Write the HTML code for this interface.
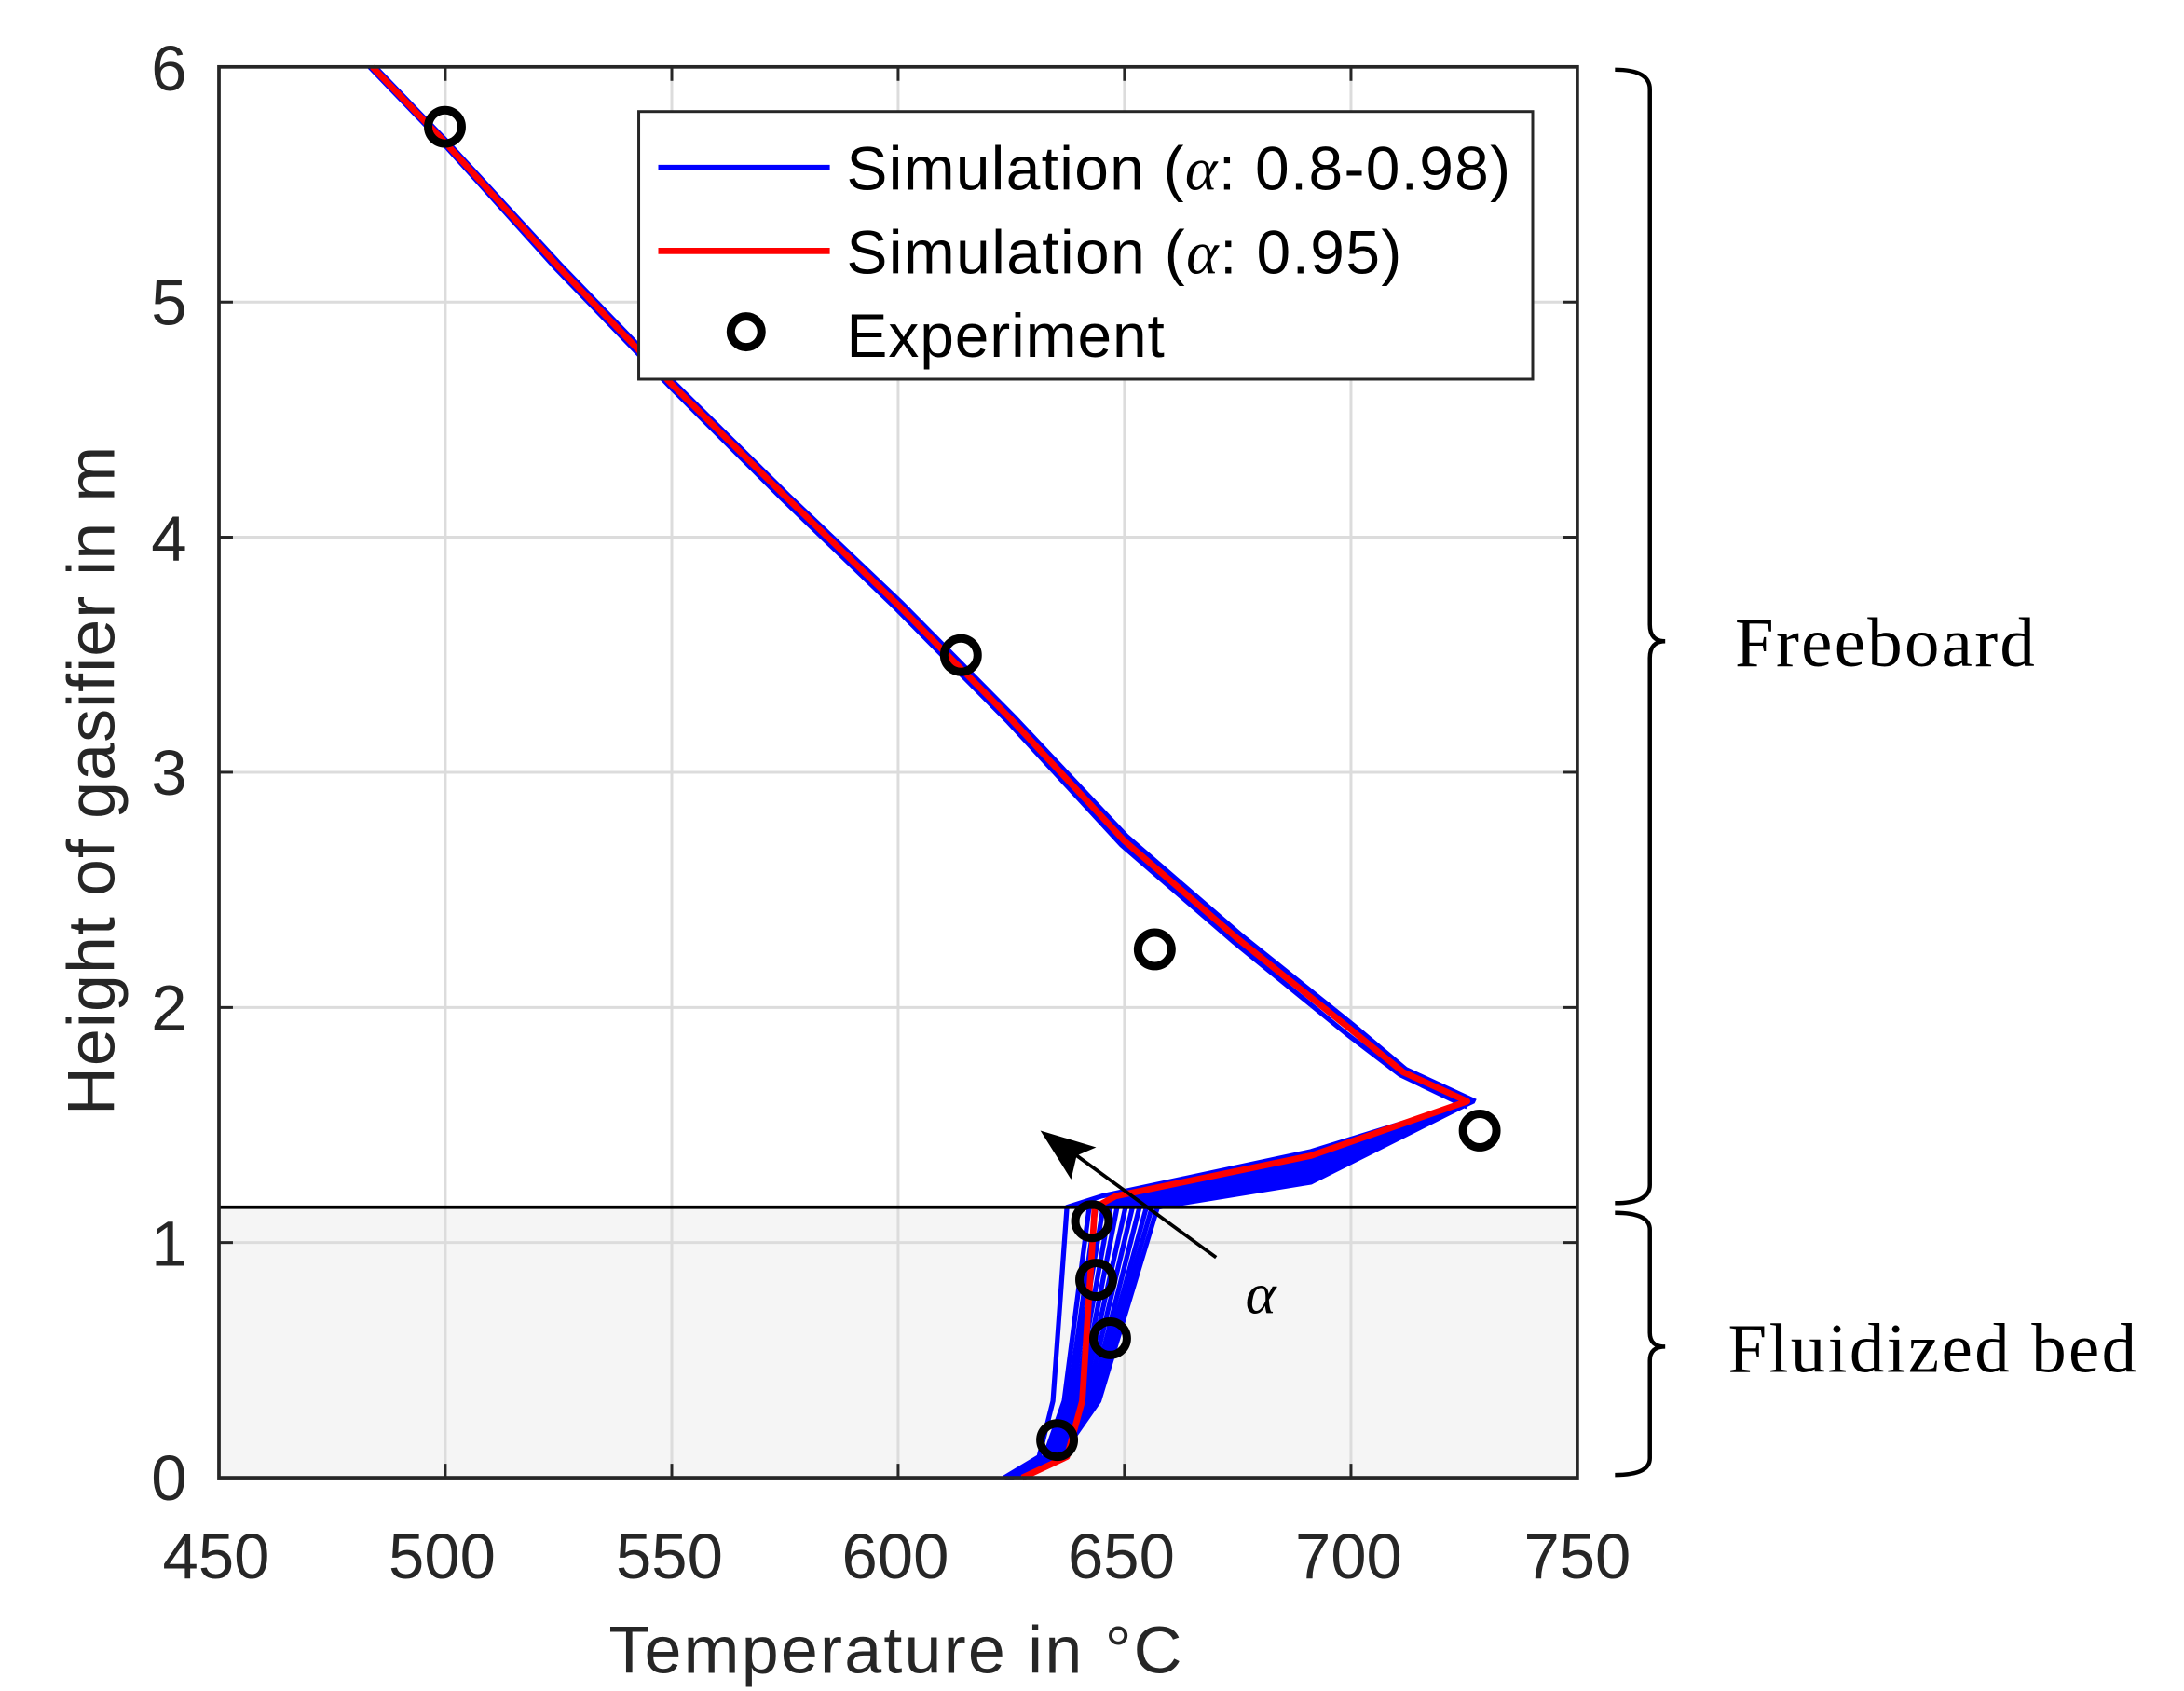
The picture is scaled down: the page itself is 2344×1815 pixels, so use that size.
<!DOCTYPE html>
<html><head><meta charset="utf-8"><style>html,body{margin:0;padding:0;background:#fff}svg{display:block}</style></head>
<body>
<svg width="2344" height="1815" viewBox="0 0 1566 1213" preserveAspectRatio="none" xmlns="http://www.w3.org/2000/svg">
<rect x="157" y="866" width="974" height="194" fill="#f5f5f5"/>
<g stroke="#dcdcdc" stroke-width="2">
<line x1="319.3" y1="48" x2="319.3" y2="1060"/><line x1="481.7" y1="48" x2="481.7" y2="1060"/><line x1="644" y1="48" x2="644" y2="1060"/><line x1="806.3" y1="48" x2="806.3" y2="1060"/><line x1="968.7" y1="48" x2="968.7" y2="1060"/>
<line x1="157" y1="216.7" x2="1131" y2="216.7"/><line x1="157" y1="385.3" x2="1131" y2="385.3"/><line x1="157" y1="554" x2="1131" y2="554"/><line x1="157" y1="722.7" x2="1131" y2="722.7"/><line x1="157" y1="891.3" x2="1131" y2="891.3"/>
</g>
<g stroke="#262626" stroke-width="2">
<line x1="319.3" y1="1060" x2="319.3" y2="1050"/><line x1="481.7" y1="1060" x2="481.7" y2="1050"/><line x1="644" y1="1060" x2="644" y2="1050"/><line x1="806.3" y1="1060" x2="806.3" y2="1050"/><line x1="968.7" y1="1060" x2="968.7" y2="1050"/>
<line x1="319.3" y1="48" x2="319.3" y2="58"/><line x1="481.7" y1="48" x2="481.7" y2="58"/><line x1="644" y1="48" x2="644" y2="58"/><line x1="806.3" y1="48" x2="806.3" y2="58"/><line x1="968.7" y1="48" x2="968.7" y2="58"/>
<line x1="157" y1="216.7" x2="167" y2="216.7"/><line x1="157" y1="385.3" x2="167" y2="385.3"/><line x1="157" y1="554" x2="167" y2="554"/><line x1="157" y1="722.7" x2="167" y2="722.7"/><line x1="157" y1="891.3" x2="167" y2="891.3"/>
<line x1="1131" y1="216.7" x2="1121" y2="216.7"/><line x1="1131" y1="385.3" x2="1121" y2="385.3"/><line x1="1131" y1="554" x2="1121" y2="554"/><line x1="1131" y1="722.7" x2="1121" y2="722.7"/><line x1="1131" y1="891.3" x2="1121" y2="891.3"/>
</g>
<g fill="none" stroke="#0000ff" stroke-width="3.5" stroke-linejoin="round">
<path d="M269,48 L321,102 L402,190 L484,275 L565,355 L646,432 L727,514 L808,600 L889,670 L970,735 L1008,767 L1058,790"/>
<path d="M265,48 L317,102 L398,192 L480,277 L561,358 L642,436 L723,518 L804,606 L885,676 L966,742 L1004,771 L1052,794"/>
<path d="M1056,790 L940,826 L790,858 L765,866 L755,1005 L745,1045 L720,1060"/>
<path d="M1056,790 L940,828 L800,860 L781,866 L763,1005 L749,1045 L721,1060"/>
<path d="M1056,790 L940,830 L803,861 L786,866 L766,1005 L750,1045 L722,1060"/>
<path d="M1056,790 L940,832 L806,861 L791,866 L768,1005 L751,1045 L722,1060"/>
<path d="M1056,790 L940,834 L809,862 L796,866 L771,1005 L752,1045 L723,1060"/>
<path d="M1056,790 L940,836 L812,862 L801,866 L774,1005 L753,1045 L723,1060"/>
<path d="M1056,790 L940,838 L816,863 L807,866 L776,1005 L755,1045 L724,1060"/>
<path d="M1056,790 L940,840 L819,863 L812,866 L779,1005 L756,1045 L724,1060"/>
<path d="M1056,790 L940,842 L822,864 L817,866 L782,1005 L757,1045 L724,1060"/>
<path d="M1056,790 L940,844 L825,864 L822,866 L784,1005 L758,1045 L725,1060"/>
<path d="M1056,790 L940,846 L828,865 L826,866 L786,1005 L759,1045 L725,1060"/>
<path d="M1056,790 L940,848 L830,866 L830,866 L788,1005 L760,1045 L725,1060"/>
</g>
<path d="M267,48 L319,102 L400,191 L482,276 L563,356 L644,434 L725,516 L806,603 L887,673 L968,738 L1006,769 L1052,790 L940,829 L800,858 L785,866 L776,1005 L765,1045 L733,1060" fill="none" stroke="#ff0000" stroke-width="4.5" stroke-linejoin="round"/>
<line x1="157" y1="866" x2="1131" y2="866" stroke="#000" stroke-width="2.5"/>
<rect x="157" y="48" width="974" height="1012" fill="none" stroke="#262626" stroke-width="2.5"/>
<g fill="none" stroke="#000" stroke-width="6">
<circle cx="319" cy="91" r="12"/><circle cx="689" cy="470" r="12"/><circle cx="828" cy="681" r="12"/><circle cx="1061" cy="811" r="12"/><circle cx="783" cy="876" r="12"/><circle cx="786" cy="918" r="12"/><circle cx="796" cy="960" r="12"/><circle cx="758" cy="1033" r="12"/>
</g>
<line x1="872" y1="902" x2="768" y2="826" stroke="#000" stroke-width="2.5"/>
<polygon points="746,811 786,823 772,829 768,846" fill="#000"/>
<text x="893" y="942" font-family="Liberation Serif, serif" font-style="italic" font-size="42">α</text>
<rect x="458" y="80" width="641" height="192" fill="#fff" stroke="#262626" stroke-width="2"/>
<line x1="472" y1="120" x2="595" y2="120" stroke="#0000ff" stroke-width="3.5"/>
<line x1="472" y1="180" x2="595" y2="180" stroke="#ff0000" stroke-width="4.5"/>
<circle cx="535" cy="238" r="11" fill="none" stroke="#000" stroke-width="6"/>
<g font-family="Liberation Sans, sans-serif" font-size="44" fill="#000">
<text x="607" y="136" textLength="476">Simulation (<tspan font-family="Liberation Serif, serif" font-style="italic">α</tspan>: 0.8-0.98)</text>
<text x="607" y="196" textLength="398">Simulation (<tspan font-family="Liberation Serif, serif" font-style="italic">α</tspan>: 0.95)</text>
<text x="607" y="256" textLength="228">Experiment</text>
</g>
<g font-family="Liberation Sans, sans-serif" font-size="46" fill="#262626" text-anchor="end">
<text x="134" y="65">6</text><text x="134" y="233">5</text><text x="134" y="402">4</text><text x="134" y="570">3</text><text x="134" y="739">2</text><text x="134" y="908">1</text><text x="134" y="1076">0</text>
</g>
<g font-family="Liberation Sans, sans-serif" font-size="46" fill="#262626" text-anchor="middle">
<text x="155" y="1132">450</text><text x="317" y="1132">500</text><text x="480" y="1132">550</text><text x="642" y="1132">600</text><text x="804" y="1132">650</text><text x="967" y="1132">700</text><text x="1131" y="1132">750</text>
<text x="642" y="1200" font-size="48" textLength="411">Temperature in  °C</text>
<text transform="translate(82,560) rotate(-90)" font-size="48" textLength="480">Height of gasifier in m</text>
</g>
<g fill="none" stroke="#000" stroke-width="3">
<path d="M1158,50 Q1183,50 1183,64 L1183,448 Q1183,460 1194,460 Q1183,460 1183,472 L1183,850 Q1183,863 1158,863"/>
<path d="M1158,870 Q1183,870 1183,882 L1183,956 Q1183,966 1194,966 Q1183,966 1183,976 L1183,1046 Q1183,1058 1158,1058"/>
</g>
<g font-family="Liberation Serif, serif" font-size="50" fill="#000">
<text x="1244" y="478" textLength="215">Freeboard</text>
<text x="1239" y="984" textLength="293">Fluidized bed</text>
</g>
</svg>
</body></html>
